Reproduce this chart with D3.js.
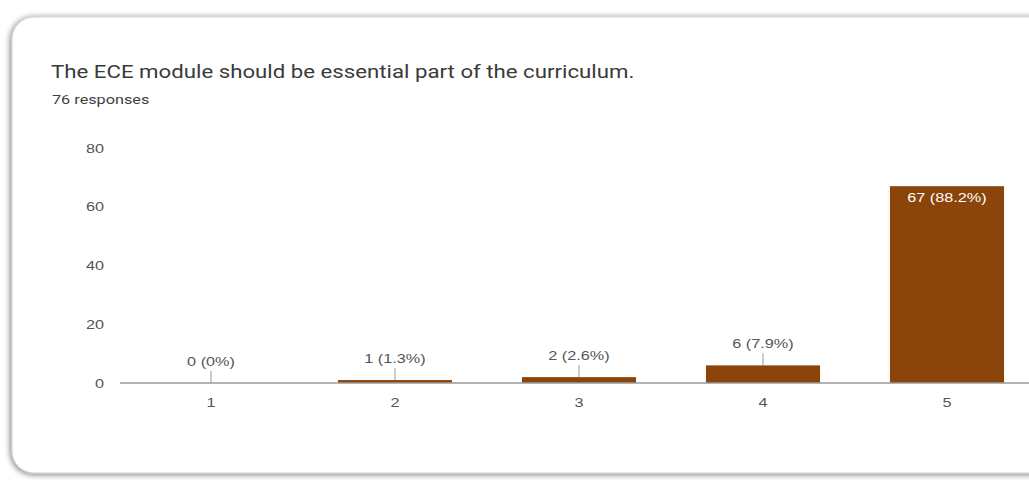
<!DOCTYPE html>
<html>
<head>
<meta charset="utf-8">
<script src="https://cdn.jsdelivr.net/npm/d3@7"></script>
<style>
  html, body { margin: 0; padding: 0; background: #fff; }
  svg { display: block; }
</style>
</head>
<body>
<svg id="chart"></svg>
<script>
const categories = ["1", "2", "3", "4", "5"];
const counts = [0, 1, 2, 6, 67];
const percents = ["0%", "1.3%", "2.6%", "7.9%", "88.2%"];
const yTicks = [0, 20, 40, 60, 80];
const title = "The ECE module should be essential part of the curriculum.";
const subtitle = "76 responses";

const width = 1029, height = 480;
const barColor = "#8b4409";
const stretch = 1.3; // the screenshot is wider than tall

const svg = d3.select("#chart")
  .attr("width", width)
  .attr("height", height);

// card with soft shadow
const defs = svg.append("defs");
const f = defs.append("filter").attr("id", "shadow")
  .attr("x", -0.05).attr("y", -0.05).attr("width", 1.1).attr("height", 1.1);
f.append("feGaussianBlur").attr("in", "SourceAlpha").attr("stdDeviation", 3);
f.append("feOffset").attr("dx", -1.5).attr("dy", 1).attr("result", "b");
f.append("feComponentTransfer").append("feFuncA").attr("type", "linear").attr("slope", 0.55);
const m = f.append("feMerge");
m.append("feMergeNode");
m.append("feMergeNode").attr("in", "SourceGraphic");

svg.append("rect")
  .attr("x", 12).attr("y", 17)
  .attr("width", 1060).attr("height", 456)
  .attr("rx", 22)
  .attr("fill", "#fff")
  .attr("stroke", "#cfcfcf")
  .attr("stroke-width", 1)
  .attr("filter", "url(#shadow)");

svg.append("text")
  .attr("transform", `translate(51,78) scale(1.235,1)`)
  .attr("font-family", "Roboto, 'Noto Sans', sans-serif")
  .attr("font-size", 18)
  .attr("fill", "#3a3a3a")
  .text(title);

svg.append("text")
  .attr("transform", `translate(52,104) scale(${stretch},1)`)
  .attr("font-family", "Roboto, 'Noto Sans', sans-serif")
  .attr("font-size", 12.5)
  .attr("fill", "#3f3f3f")
  .text(subtitle);

const x = d3.scaleBand()
  .domain(categories)
  .range([119, 1039])
  .paddingInner(0.38)
  .paddingOuter(0.19);

const y = d3.scaleLinear()
  .domain([0, 80])
  .range([383, 148]);

const font = "'Liberation Sans', Arial, sans-serif";

// y axis labels
const yAxis = svg.append("g")
  .attr("transform", "translate(104,0)")
  .call(d3.axisLeft(y).tickValues(yTicks).tickSize(0).tickPadding(0));
yAxis.select(".domain").remove();
yAxis.selectAll("text")
  .attr("x", 0)
  .attr("transform", `scale(${stretch},1)`)
  .attr("font-family", font)
  .attr("font-size", 12.5)
  .attr("fill", "#555");

// bars
const data = categories.map((c, i) => ({ c, v: counts[i], p: percents[i] }));

svg.append("g").selectAll("rect")
  .data(data)
  .join("rect")
  .attr("x", d => x(d.c))
  .attr("y", d => y(d.v))
  .attr("width", x.bandwidth())
  .attr("height", d => y(0) - y(d.v))
  .attr("fill", barColor);

// baseline
svg.append("line")
  .attr("x1", 120).attr("x2", width)
  .attr("y1", y(0)).attr("y2", y(0))
  .attr("stroke", "#9a9a9a")
  .attr("stroke-width", 1.5);

// x axis labels
const xAxis = svg.append("g")
  .attr("transform", `translate(0,${y(0)})`)
  .call(d3.axisBottom(x).tickSize(0).tickPadding(15));
xAxis.select(".domain").remove();
xAxis.selectAll("text")
  .attr("transform", `scale(${stretch},1)`)
  .attr("font-family", font)
  .attr("font-size", 12.5)
  .attr("fill", "#555");

// value labels
const inside = d => y(0) - y(d.v) > 40;
const cx = d => x(d.c) + x.bandwidth() / 2;

svg.append("g").selectAll("line")
  .data(data.filter(d => !inside(d)))
  .join("line")
  .attr("x1", cx).attr("x2", cx)
  .attr("y1", d => y(d.v))
  .attr("y2", d => y(d.v) - 12)
  .attr("stroke", "#999")
  .attr("stroke-width", 1);

svg.append("g").selectAll("text")
  .data(data)
  .join("text")
  .attr("transform", d => `translate(${cx(d)},${inside(d) ? y(d.v) + 16 : y(d.v) - 17}) scale(${stretch},1)`)
  .attr("text-anchor", "middle")
  .attr("font-family", font)
  .attr("font-size", 12.5)
  .attr("fill", d => inside(d) ? "#fff" : "#555")
  .text(d => `${d.v} (${d.p})`);
</script>
</body>
</html>
